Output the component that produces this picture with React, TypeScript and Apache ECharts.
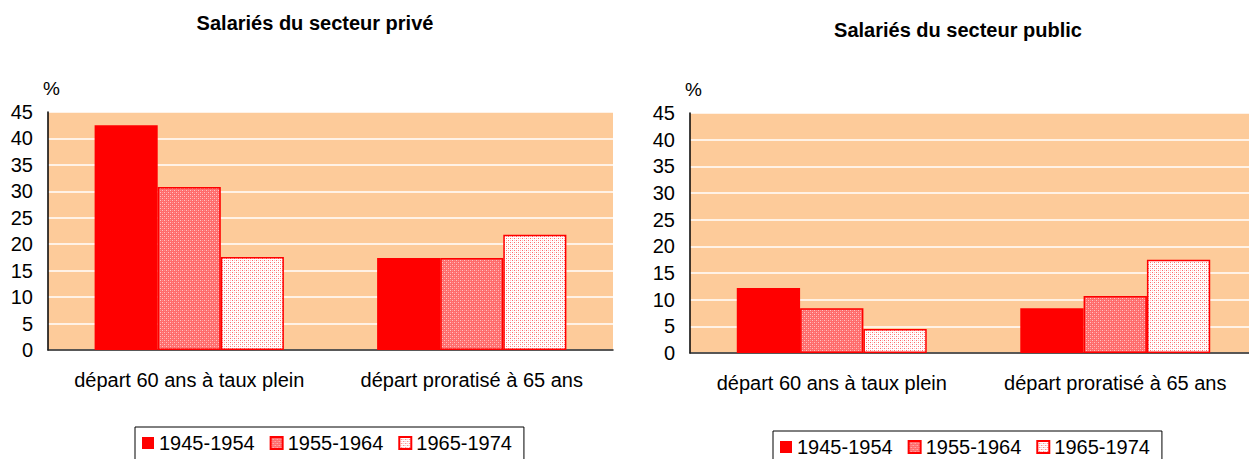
import React, { useEffect, useRef } from "react";
import * as echarts from "echarts";

const categories = ["départ 60 ans à taux plein", "départ proratisé à 65 ans"];
const cohorts = ["1945-1954", "1955-1964", "1965-1974"];
const privateValues = [
  [42.5, 17.4],
  [30.8, 17.4],
  [17.6, 21.8],
];
const publicValues = [
  [12.2, 8.4],
  [8.4, 10.7],
  [4.5, 17.5],
];
const yTicks = { min: 0, max: 45, interval: 5 };
const titles = ["Salariés du secteur privé", "Salariés du secteur public"];

function makePattern(base: string, dot: string, dot2: string) {
  const c = document.createElement("canvas");
  c.width = 4;
  c.height = 4;
  const ctx = c.getContext("2d")!;
  ctx.fillStyle = base;
  ctx.fillRect(0, 0, 4, 4);
  ctx.fillStyle = dot;
  ctx.fillRect(0, 0, 1, 1);
  ctx.fillRect(2, 2, 1, 1);
  ctx.fillStyle = dot2;
  ctx.fillRect(2, 0, 1, 1);
  ctx.fillRect(0, 2, 1, 1);
  return c;
}

export default function App() {
  const ref = useRef<HTMLDivElement>(null);
  useEffect(() => {
    document.body.style.margin = "0";
    document.body.style.overflow = "hidden";
    const chart = echarts.init(ref.current!, null, { renderer: "svg" });
    const p2 = makePattern("#ff6c6c", "#ffc4c4", "#ff9090");
    const p3 = makePattern("#ffffff", "#ff6a6a", "#ffc0c0");
    const styles = [
      { color: "#ff0000", borderColor: "#ff0000", borderWidth: 0 },
      { color: { image: p2, repeat: "repeat" }, borderColor: "#ff0000", borderWidth: 1.5 },
      { color: { image: p3, repeat: "repeat" }, borderColor: "#ff0000", borderWidth: 1.5 },
    ];
    const font = "Liberation Sans, Arial, sans-serif";
    const grids = [
      { left: 48, top: 112, width: 565, height: 238 },
      { left: 690, top: 113, width: 567, height: 240 },
    ];
    const mkX = (i: number) => ({
      type: "category",
      gridIndex: i,
      data: categories,
      axisLine: { lineStyle: { color: "#222", width: 1.5 } },
      axisTick: { show: false },
      axisLabel: { interval: 0, hideOverlap: false, fontSize: 20, color: "#000", fontFamily: font, margin: 20 },
    });
    const mkY = (i: number) => ({
      type: "value",
      gridIndex: i,
      ...yTicks,
      name: "%",
      nameLocation: "end",
      nameGap: 14,
      nameTextStyle: { fontSize: 19, color: "#000", fontFamily: font, align: "left", padding: [0, 0, 0, -5] },
      axisLine: { show: true, lineStyle: { color: "#000", width: 1.5 } },
      axisTick: { show: false },
      axisLabel: { fontSize: 20, color: "#000", fontFamily: font, margin: 15 },
      splitLine: { lineStyle: { color: "#ffffff", width: 1.5 } },
    });
    const series: any[] = [];
    [privateValues, publicValues].forEach((vals, g) => {
      vals.forEach((v, k) => {
        series.push({
          type: "bar",
          name: cohorts[k],
          xAxisIndex: g,
          yAxisIndex: g,
          data: v,
          barGap: "0%",
          barCategoryGap: "33%",
          itemStyle: styles[k],
        });
      });
    });
    const legendBase = {
      data: cohorts.map((n) => ({ name: n, icon: "rect" })),
      orient: "horizontal",
      borderColor: "#000",
      borderWidth: 1,
      borderRadius: 0,
      itemWidth: 12,
      itemHeight: 12,
      itemGap: 15,
      padding: [6, 12, 10, 7],
      textStyle: { fontSize: 20, color: "#000", fontFamily: font },
    };
    chart.setOption({
      animation: false,
      backgroundColor: "#ffffff",
      title: [
        { text: titles[0], left: 310, textAlign: "center", top: 8, textStyle: { fontSize: 20, fontWeight: "bold", color: "#000", fontFamily: font } },
        { text: titles[1], left: 953, textAlign: "center", top: 15, textStyle: { fontSize: 20, fontWeight: "bold", color: "#000", fontFamily: font } },
      ],
      legend: [
        { ...legendBase, left: 135, top: 427 },
        { ...legendBase, left: 773, top: 431 },
      ],
      grid: grids.map((g) => ({ ...g, show: true, backgroundColor: "#fdcb9a", borderWidth: 0, containLabel: false })),
      xAxis: [mkX(0), mkX(1)],
      yAxis: [mkY(0), mkY(1)],
      series,
    });
    return () => chart.dispose();
  }, []);
  return <div ref={ref} style={{ position: "absolute", left: 0, top: 0, width: 1258, height: 459 }} />;
}
